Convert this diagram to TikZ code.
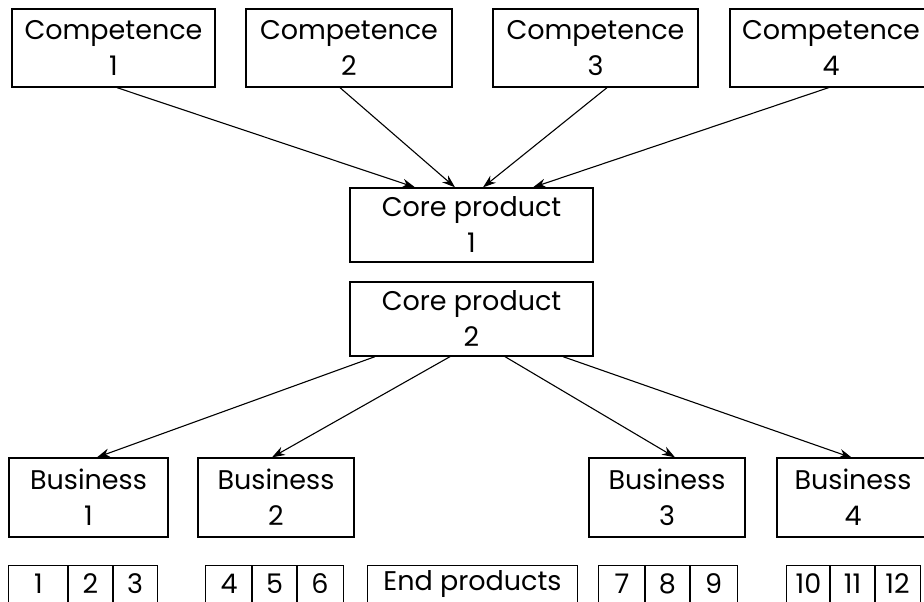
\documentclass[tikz,border=0pt]{standalone}
\usepackage{fontspec}
\setmainfont{Poppins}
\usetikzlibrary{arrows.meta}
\tikzset{
  boxtext/.style={inner sep=0pt, align=center, font=\fontsize{27}{36}\selectfont},
  box/.style={boxtext, draw=black, line width=1.3pt},
  cell/.style={inner sep=0pt, minimum height=36pt, font=\fontsize{27}{36}\selectfont},
  celledge/.style={draw=black, line width=1.3pt},
  openedge/.style={draw=black, line width=1.5pt},
  arr/.style={line width=1.1pt, -{Stealth[length=13pt,width=9pt]}}
}
\begin{document}
\begin{tikzpicture}[x=1pt,y=-1pt]
\useasboundingbox (0,0) rectangle (924,602);
\fill[white] (0,0) rectangle (924,602);
\coordinate (edgeR) at (924,0);
% competences
\node[box, minimum width=203pt, minimum height=78pt] (c1) at (113.5,48) {Competence\\1};
\node[box, minimum width=206pt, minimum height=78pt] (c2) at (349,48) {Competence\\2};
\node[box, minimum width=205pt, minimum height=78pt] (c3) at (595.5,48) {Competence\\3};
\node[boxtext, minimum width=202pt, minimum height=78pt] (c4) at (831,48) {Competence\\4};
\draw[openedge] (c4.north west -| edgeR) -- (c4.north west) -- (c4.south west) -- (c4.south west -| edgeR);
% core products
\node[box, minimum width=243pt, minimum height=74pt] (k1) at (471.5,225) {Core product\\1};
\node[box, minimum width=243pt, minimum height=74pt] (k2) at (471.5,319) {Core product\\2};
% businesses
\node[box, minimum width=159pt, minimum height=79pt] (b1) at (88.5,497.5) {Business\\1};
\node[box, minimum width=156pt, minimum height=79pt] (b2) at (276,497.5) {Business\\2};
\node[box, minimum width=156pt, minimum height=79pt] (b3) at (667,497.5) {Business\\3};
\node[boxtext, minimum width=152pt, minimum height=79pt] (b4) at (853,497.5) {Business\\4};
\draw[openedge] (b4.north west -| edgeR) -- (b4.north west) -- (b4.south west) -- (b4.south west -| edgeR);
% end products row
\node[cell, minimum width=59pt] (p1) at (38.5,584) {1};
\node[cell, minimum width=45pt] (p2) at (90.5,584) {2};
\node[cell, minimum width=44pt] (p3) at (135,584) {3};
\node[cell, minimum width=46pt] (p4) at (229,584) {4};
\node[cell, minimum width=45pt] (p5) at (274.5,584) {5};
\node[cell, minimum width=46pt] (p6) at (320,584) {6};
\node[cell, minimum width=209pt] (ep) at (472.5,584) {End products};
\node[cell, minimum width=46pt] (p7) at (622,584) {7};
\node[cell, minimum width=45pt] (p8) at (667.5,584) {8};
\node[cell, minimum width=47pt] (p9) at (713.5,584) {9};
\node[cell, minimum width=43pt] (p10) at (808.5,584) {10};
\node[cell, minimum width=45pt] (p11) at (852.5,584) {11};
\node[cell, minimum width=45pt] (p12) at (897.5,584) {12};
\foreach \n in {p1,p2,p3,p4,p5,p6,ep,p7,p8,p9,p10,p11,p12}
  \draw[celledge] (\n.south west) -- (\n.north west) -- (\n.north east) -- (\n.south east);
% arrows competences -> core product 1
\draw[arr] ([xshift=3.5pt]c1.south) -- ([xshift=-56.5pt]k1.north);
\draw[arr] ([xshift=-9pt]c2.south) -- ([xshift=-16.5pt]k1.north);
\draw[arr] ([xshift=11.5pt]c3.south) -- ([xshift=11.5pt]k1.north);
\draw[arr] ([xshift=-1pt]c4.south) -- ([xshift=61.5pt]k1.north);
% arrows core product 2 -> businesses
\draw[arr] ([xshift=-96.5pt]k2.south) -- ([xshift=8.5pt]b1.north);
\draw[arr] ([xshift=-21.5pt]k2.south) -- ([xshift=-4pt]b2.north);
\draw[arr] ([xshift=33.5pt]k2.south) -- ([xshift=8pt]b3.north);
\draw[arr] ([xshift=91.5pt]k2.south) -- ([xshift=-1pt]b4.north);
\end{tikzpicture}
\end{document}
